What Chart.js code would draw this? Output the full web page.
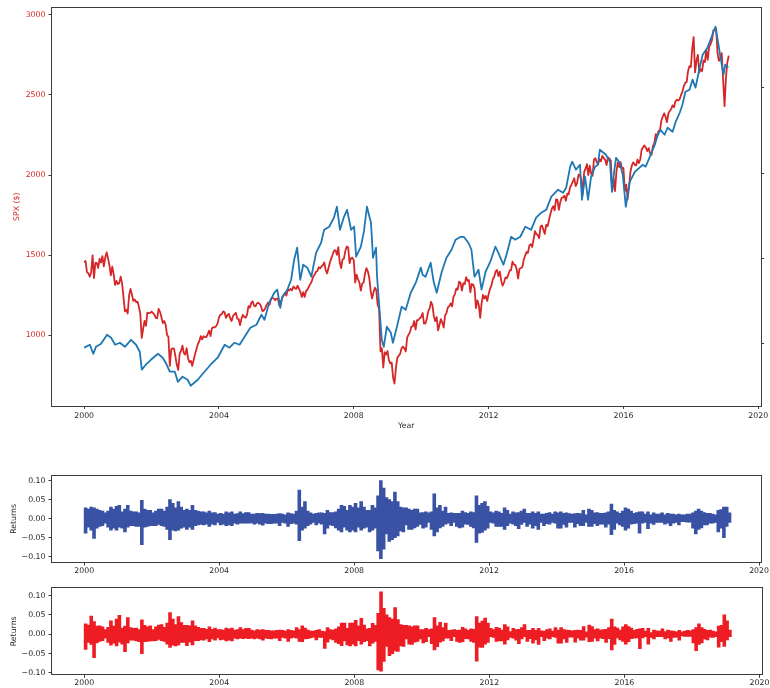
<!DOCTYPE html>
<html>
<head>
<meta charset="utf-8">
<script src="https://cdn.jsdelivr.net/npm/chart.js@4.4.0/dist/chart.umd.min.js"></script>
<style>
  html, body { margin: 0; padding: 0; background: #fff; overflow: hidden; }
  #wrap { position: relative; width: 770px; height: 688px; }
  canvas { position: absolute; left: 0; }
</style>
</head>
<body>
<div id="wrap">
  <canvas id="price" width="770" height="435" style="top:0"></canvas>
  <canvas id="retIndex" width="770" height="115" style="top:465px"></canvas>
  <canvas id="retSpx" width="770" height="108" style="top:580px"></canvas>
</div>
<script>
// ---- tick labels ----
const yearTicks = [2000, 2004, 2008, 2012, 2016, 2020];
const spxTicks = [1000, 1500, 2000, 2500, 3000];
const indexTicks = [100, 150, 200, 250];
const returnTicks = [-0.10, -0.05, 0, 0.05, 0.10];

// ---- S&P 500 level: first session of 2000, then mid-month and month-end closes ----
const spxStartYear = 2000;
const spxClose = [
  1455,
  1465,1394, 1388,1366, 1395,1499, 1357,1452, 1452,1421, 1478,1455, 1495,1431, 1484,1518, 1481,1437, 1374,1429, 1382,1315, 1340,1320,
  1326,1366, 1326,1240, 1150,1160, 1137,1249, 1290,1256, 1215,1224, 1208,1211, 1178,1134, 985,1041, 1090,1060, 1142,1139, 1140,1148,
  1140,1130, 1110,1107, 1165,1147, 1115,1077, 1090,1067, 1005,990, 810,912, 920,916, 870,815, 785,886, 905,936, 890,880,
  920,856, 834,841, 810,848, 885,917, 945,964, 995,975, 995,990, 990,1008, 1030,996, 1045,1051, 1050,1058, 1075,1112,
  1130,1131, 1150,1145, 1110,1126, 1135,1107, 1090,1121, 1132,1141, 1105,1102, 1065,1104, 1128,1115, 1110,1130, 1183,1174, 1203,1212,
  1185,1181, 1200,1204, 1197,1181, 1150,1157, 1170,1192, 1205,1191, 1227,1234, 1230,1220, 1230,1229, 1185,1207, 1235,1249, 1265,1248,
  1287,1280, 1290,1281, 1305,1295, 1290,1311, 1290,1270, 1240,1270, 1240,1277, 1285,1304, 1320,1336, 1365,1378, 1395,1401, 1425,1418,
  1430,1438, 1455,1407, 1387,1421, 1455,1482, 1505,1531, 1530,1503, 1550,1455, 1420,1474, 1480,1527, 1555,1549, 1450,1481, 1485,1468,
  1330,1379, 1350,1331, 1280,1323, 1330,1386, 1420,1400, 1360,1280, 1230,1267, 1298,1283, 1190,1166, 900,920, 800,896, 880,903,
  845,826, 830,735, 700,798, 860,873, 885,919, 930,919, 900,987, 1005,1021, 1055,1057, 1090,1036, 1095,1096, 1107,1115,
  1140,1074, 1075,1104, 1150,1169, 1210,1187, 1120,1089, 1115,1031, 1065,1102, 1080,1049, 1125,1141, 1175,1183, 1200,1181, 1242,1258,
  1293,1286, 1335,1327, 1280,1326, 1320,1364, 1340,1345, 1268,1321, 1317,1292, 1170,1219, 1190,1110, 1200,1253, 1230,1247, 1215,1258,
  1290,1312, 1350,1366, 1400,1408, 1370,1398, 1340,1310, 1330,1362, 1356,1379, 1405,1407, 1460,1441, 1440,1412, 1355,1416, 1420,1426,
  1472,1498, 1520,1515, 1560,1569, 1552,1598, 1650,1631, 1626,1606, 1680,1686, 1660,1633, 1690,1682, 1720,1757, 1790,1806, 1780,1848,
  1845,1783, 1830,1859, 1860,1872, 1840,1884, 1880,1924, 1940,1960, 1980,1931, 1950,2003, 1998,1972, 1880,2018, 2040,2068, 2000,2059,
  2010,1995, 2096,2105, 2080,2068, 2100,2086, 2120,2107, 2095,2063, 2110,2104, 2090,1900, 1980,1900, 2020,2079, 2050,2080, 2040,2044,
  1900,1940, 1850,1932, 2020,2060, 2080,2065, 2060,2097, 2075,2099, 2160,2174, 2185,2171, 2150,2168, 2135,2126, 2180,2199, 2255,2239,
  2275,2279, 2340,2364, 2385,2363, 2330,2384, 2400,2412, 2435,2423, 2460,2470, 2465,2472, 2500,2519, 2555,2575, 2580,2648, 2680,2674,
  2790,2860, 2640,2714, 2750,2641, 2660,2648, 2715,2705, 2780,2718, 2800,2816, 2840,2902, 2905,2914, 2760,2712, 2730,2760, 2590,2430,
  2610,2704, 2745
];

// ---- second index (right-hand axis) ----
const indexYears = [
  2000.00,2000.17,2000.27,2000.35,2000.50,2000.68,2000.80,2000.92,
  2001.06,2001.21,2001.39,2001.54,2001.65,2001.71,2001.83,2001.98,
  2002.19,2002.33,2002.42,2002.54,2002.69,2002.78,2002.92,
  2003.07,2003.16,2003.37,2003.57,2003.75,2003.96,
  2004.17,2004.31,2004.46,2004.61,2004.76,2004.93,
  2005.11,2005.26,2005.35,2005.49,2005.64,2005.73,2005.82,2005.88,
  2006.03,2006.14,2006.23,2006.32,2006.41,2006.50,2006.62,2006.74,2006.88,
  2007.03,2007.12,2007.27,2007.41,2007.50,2007.59,2007.71,2007.80,2007.92,
  2008.01,2008.07,2008.21,2008.30,2008.39,2008.51,2008.57,2008.66,2008.69,2008.77,2008.83,2008.89,2008.98,
  2009.10,2009.16,2009.28,2009.42,2009.54,2009.69,2009.84,2009.99,
  2010.04,2010.13,2010.28,2010.37,2010.46,2010.61,2010.75,2010.90,
  2011.02,2011.17,2011.26,2011.40,2011.49,2011.58,2011.70,2011.79,2011.91,
  2012.05,2012.20,2012.29,2012.44,2012.53,2012.67,2012.79,2012.94,
  2013.09,2013.26,2013.41,2013.56,2013.71,2013.86,2013.97,
  2014.06,2014.21,2014.30,2014.42,2014.48,2014.59,2014.71,2014.77,2014.86,2014.95,
  2015.04,2015.16,2015.24,2015.30,2015.48,2015.60,2015.66,2015.72,2015.78,2015.89,2015.98,
  2016.07,2016.19,2016.34,2016.48,2016.57,2016.66,2016.81,2016.93,
  2017.02,2017.10,2017.22,2017.31,2017.46,2017.55,2017.67,2017.75,2017.84,2017.96,
  2018.05,2018.14,2018.26,2018.35,2018.49,2018.64,2018.73,2018.82,2018.88,2018.97,
  2019.02,2019.11
];
const indexLevel = [
  97.7,99.4,94.1,98.2,100.0,105.3,103.5,99.4,
  100.6,98.2,102.3,99.4,95.3,84.8,87.7,90.6,
  94.1,91.8,88.9,83.6,83.6,77.7,80.7,
  78.9,75.4,78.9,83.6,87.7,91.8,
  99.4,97.7,100.6,99.4,104.1,109.4,
  111.1,117.0,114.1,124.0,129.9,131.7,121.1,127.6,
  131.7,137.5,149.2,156.3,137.5,146.3,144.6,139.3,153.3,
  159.2,166.8,168.6,173.9,180.3,166.8,174.4,178.5,166.8,
  168.6,151.0,156.9,165.7,180.3,170.9,150.4,156.3,139.3,118.2,102.3,98.2,110.0,
  106.4,100.6,110.0,121.7,119.9,129.9,135.8,144.6,
  140.5,139.3,147.5,136.3,129.9,142.2,150.4,155.1,
  161.0,162.7,162.7,159.2,155.1,139.3,143.4,131.7,142.2,
  148.1,156.9,153.3,146.3,152.2,162.7,161.0,162.7,
  168.6,166.8,173.9,176.8,178.5,186.2,188.5,
  190.3,188.5,191.4,203.8,206.7,202.0,204.9,184.4,197.9,184.4,
  197.9,203.8,204.9,213.7,210.8,206.7,189.0,200.0,209.0,206.1,199.1,
  180.3,195.0,200.8,203.2,204.9,203.8,210.8,216.7,
  222.5,225.4,222.5,226.6,224.3,230.1,235.4,240.1,247.7,248.9,
  254.8,250.1,261.8,269.4,273.5,281.1,285.8,275.3,267.7,257.7,
  263.6,261.8
];

// ---- daily log returns, summarised per month as the highest and lowest day ----
const returnStartYear = 2000;
const indexRetHigh = [
  .028,.025,.030,.028,.025,.022,.020,.015,.020,.030,.025,.032,
  .035,.018,.025,.035,.020,.018,.018,.015,.048,.025,.022,.022,
  .015,.020,.025,.025,.020,.030,.050,.040,.028,.045,.030,.022,
  .025,.022,.035,.022,.020,.018,.018,.015,.020,.015,.016,.012,
  .014,.012,.018,.015,.018,.012,.013,.018,.013,.016,.016,.012,
  .012,.014,.013,.014,.012,.012,.011,.011,.012,.013,.012,.010,
  .015,.013,.012,.020,.075,.030,.045,.020,.015,.012,.014,.015,
  .015,.014,.022,.016,.016,.018,.025,.035,.032,.022,.035,.030,
  .040,.028,.045,.030,.022,.022,.035,.028,.060,.100,.080,.055,
  .050,.045,.070,.045,.030,.028,.028,.025,.022,.025,.025,.015,
  .016,.018,.015,.018,.065,.028,.035,.020,.030,.014,.015,.014,
  .014,.014,.020,.016,.014,.018,.016,.060,.035,.040,.045,.032,
  .018,.015,.020,.018,.014,.028,.022,.012,.018,.015,.016,.020,
  .025,.014,.014,.018,.014,.018,.012,.012,.014,.016,.012,.018,
  .015,.018,.014,.015,.013,.012,.013,.014,.013,.022,.010,.025,
  .022,.015,.016,.014,.014,.015,.018,.038,.022,.018,.014,.020,
  .028,.025,.020,.014,.016,.018,.018,.012,.018,.010,.015,.012,
  .012,.015,.010,.014,.012,.012,.010,.012,.010,.010,.012,.012,
  .015,.020,.025,.020,.016,.014,.014,.012,.010,.022,.024,.030,
  .030,.015
];
const indexRetLow = [
  -.038,-.022,-.030,-.052,-.025,-.020,-.018,-.012,-.022,-.030,-.025,-.030,
  -.022,-.025,-.035,-.022,-.018,-.018,-.020,-.020,-.068,-.022,-.020,-.018,
  -.018,-.018,-.015,-.018,-.020,-.028,-.055,-.030,-.032,-.030,-.025,-.022,
  -.028,-.022,-.028,-.018,-.016,-.015,-.016,-.014,-.020,-.014,-.016,-.010,
  -.016,-.014,-.018,-.016,-.018,-.012,-.014,-.012,-.012,-.012,-.012,-.011,
  -.014,-.012,-.014,-.017,-.012,-.013,-.013,-.012,-.012,-.018,-.010,-.012,
  -.020,-.013,-.012,-.014,-.058,-.030,-.025,-.018,-.014,-.010,-.016,-.012,
  -.014,-.040,-.025,-.016,-.018,-.024,-.030,-.035,-.022,-.030,-.035,-.030,
  -.035,-.022,-.030,-.025,-.022,-.035,-.030,-.025,-.085,-.105,-.080,-.040,
  -.060,-.055,-.050,-.045,-.032,-.035,-.016,-.028,-.028,-.024,-.020,-.015,
  -.025,-.022,-.010,-.028,-.045,-.035,-.024,-.020,-.014,-.012,-.018,-.010,
  -.020,-.024,-.022,-.014,-.015,-.020,-.024,-.062,-.038,-.036,-.030,-.025,
  -.010,-.012,-.020,-.020,-.020,-.028,-.018,-.012,-.014,-.018,-.026,-.015,
  -.010,-.020,-.014,-.025,-.018,-.028,-.010,-.018,-.013,-.014,-.010,-.012,
  -.025,-.025,-.015,-.022,-.010,-.010,-.022,-.013,-.018,-.018,-.010,-.020,
  -.020,-.013,-.018,-.014,-.014,-.022,-.014,-.042,-.028,-.012,-.016,-.020,
  -.030,-.025,-.014,-.013,-.012,-.038,-.012,-.010,-.026,-.012,-.015,-.010,
  -.010,-.010,-.014,-.012,-.018,-.012,-.010,-.016,-.008,-.008,-.009,-.009,
  -.025,-.040,-.028,-.024,-.016,-.016,-.012,-.012,-.010,-.035,-.025,-.050,
  -.020,-.010
];
const spxRetHigh = [
  .027,.024,.047,.033,.021,.022,.019,.012,.018,.035,.021,.039,
  .049,.016,.021,.043,.017,.015,.016,.012,.037,.023,.019,.022,
  .012,.019,.024,.025,.018,.029,.056,.039,.025,.046,.030,.023,
  .023,.022,.035,.022,.018,.015,.015,.013,.019,.013,.016,.012,
  .012,.011,.016,.014,.016,.011,.012,.017,.012,.015,.015,.011,
  .009,.012,.011,.012,.010,.010,.009,.009,.010,.011,.010,.008,
  .012,.010,.009,.017,.012,.022,.016,.011,.008,.008,.010,.012,
  .008,.007,.017,.012,.011,.014,.019,.029,.029,.015,.029,.029,
  .036,.022,.041,.024,.014,.015,.028,.023,.054,.110,.067,.050,
  .043,.039,.069,.038,.025,.023,.023,.022,.019,.022,.022,.012,
  .012,.015,.012,.014,.043,.022,.031,.017,.029,.010,.011,.012,
  .010,.011,.018,.014,.010,.014,.013,.046,.029,.034,.042,.029,
  .015,.012,.018,.016,.011,.025,.019,.007,.015,.012,.013,.017,
  .025,.010,.010,.015,.010,.015,.009,.008,.012,.014,.008,.017,
  .011,.017,.012,.011,.010,.009,.010,.011,.010,.020,.006,.024,
  .020,.012,.014,.011,.012,.013,.017,.039,.019,.016,.011,.019,
  .025,.020,.016,.010,.013,.014,.015,.008,.015,.004,.011,.009,
  .008,.014,.007,.011,.009,.008,.006,.010,.006,.008,.010,.009,
  .012,.017,.027,.017,.013,.010,.011,.008,.006,.021,.023,.050,
  .035,.011
];
const spxRetLow = [
  -.039,-.021,-.026,-.060,-.022,-.018,-.016,-.010,-.021,-.028,-.023,-.030,
  -.020,-.025,-.045,-.022,-.015,-.015,-.017,-.019,-.050,-.019,-.018,-.017,
  -.017,-.016,-.013,-.016,-.018,-.025,-.034,-.028,-.030,-.027,-.021,-.021,
  -.029,-.020,-.027,-.016,-.016,-.014,-.015,-.012,-.019,-.012,-.015,-.009,
  -.014,-.013,-.017,-.015,-.017,-.010,-.012,-.010,-.011,-.010,-.011,-.010,
  -.012,-.010,-.012,-.015,-.010,-.011,-.012,-.010,-.010,-.016,-.008,-.010,
  -.018,-.010,-.008,-.010,-.018,-.019,-.012,-.011,-.009,-.007,-.014,-.008,
  -.008,-.036,-.020,-.012,-.014,-.021,-.024,-.029,-.017,-.027,-.030,-.025,
  -.030,-.016,-.025,-.019,-.016,-.030,-.023,-.018,-.092,-.095,-.070,-.031,
  -.055,-.050,-.043,-.044,-.030,-.031,-.012,-.025,-.026,-.020,-.018,-.012,
  -.022,-.019,-.006,-.024,-.040,-.032,-.020,-.017,-.010,-.010,-.016,-.006,
  -.018,-.021,-.019,-.011,-.012,-.018,-.021,-.069,-.033,-.034,-.025,-.021,
  -.006,-.008,-.018,-.017,-.017,-.025,-.014,-.008,-.010,-.015,-.024,-.012,
  -.006,-.018,-.011,-.023,-.014,-.026,-.006,-.016,-.010,-.012,-.006,-.008,
  -.023,-.023,-.012,-.021,-.007,-.007,-.020,-.010,-.015,-.015,-.007,-.019,
  -.018,-.010,-.017,-.010,-.011,-.021,-.011,-.040,-.026,-.009,-.014,-.018,
  -.025,-.019,-.011,-.010,-.009,-.037,-.009,-.006,-.025,-.008,-.012,-.006,
  -.006,-.006,-.012,-.009,-.018,-.008,-.007,-.015,-.004,-.005,-.005,-.005,
  -.022,-.042,-.026,-.022,-.012,-.014,-.007,-.008,-.006,-.033,-.019,-.031,
  -.014,-.006
];

// ---- styling ----
const TEXT = '#262626';
const SPINE = '#3c3c3c';
Chart.defaults.font.family = 'DejaVu Sans';
Chart.defaults.font.size = 7.8;
Chart.defaults.color = TEXT;

// spine box around every plot area
const frame = {
  id: 'frame',
  afterDraw(chart) {
    const { ctx, chartArea: a } = chart;
    ctx.save();
    ctx.strokeStyle = SPINE;
    ctx.lineWidth = 1;
    const l = Math.round(a.left) - 0.5, t = Math.round(a.top) - 0.5;
    const r = Math.round(a.right) + 0.5, b = Math.round(a.bottom) + 0.5;
    ctx.strokeRect(l, t, r - l, b - t);
    ctx.restore();
  }
};

const tickGrid = { drawOnChartArea: false, drawTicks: true, tickLength: 3.5, tickColor: SPINE, color: SPINE, offset: false };
const fixedTicks = list => scale => { scale.ticks = list.map(value => ({ value })); };
const fixedWidth = w => scale => { scale.width = w; };
const fixedHeight = h => scale => { scale.height = h; };
const minusSign = v => (v < 0 ? '\u2212' : '') + Math.abs(v).toFixed(2);

function yearAxis(height, labelPad, withTitle) {
  return {
    type: 'linear', position: 'bottom', min: 1999.046, max: 2020.068, offset: false,
    afterBuildTicks: fixedTicks(yearTicks),
    afterFit: fixedHeight(height),
    ticks: { callback: v => String(v), padding: labelPad, maxRotation: 0, autoSkip: false, color: TEXT },
    grid: tickGrid, border: { display: false },
    title: withTitle ? { display: true, text: 'Year', color: TEXT, padding: { top: 0, bottom: 4.3 } } : { display: false }
  };
}

const baseOptions = {
  responsive: false, animation: false, devicePixelRatio: 1,
  elements: { point: { radius: 0 }, line: { tension: 0, borderJoinStyle: 'round' } },
  plugins: { legend: { display: false }, tooltip: { enabled: false } }
};

// ---- price chart with two y axes ----
new Chart(document.getElementById('price'), {
  type: 'line',
  data: {
    datasets: [
      {
        label: 'Index',
        data: indexYears.map((x, i) => ({ x, y: indexLevel[i] })),
        yAxisID: 'yIndex', borderColor: '#1f77b4', borderWidth: 1.8, order: 0
      },
      {
        label: 'SPX',
        data: spxClose.map((y, i) => ({ x: spxStartYear + i / 24, y })),
        yAxisID: 'ySpx', borderColor: '#d62728', borderWidth: 1.8, order: 1
      }
    ]
  },
  options: {
    ...baseOptions,
    parsing: false,
    layout: { padding: { top: 8, left: 0, right: 0, bottom: 0 } },
    scales: {
      x: yearAxis(29.5, 1.8, true),
      ySpx: {
        position: 'left', min: 563, max: 3042,
        afterBuildTicks: fixedTicks(spxTicks), afterFit: fixedWidth(52),
        ticks: { color: '#d62728', padding: 3, callback: v => String(v) },
        grid: tickGrid, border: { display: false },
        title: { display: true, text: 'SPX ($)', color: '#d62728', padding: { top: 12, bottom: 0 } }
      },
      yIndex: {
        position: 'right', min: 63.8, max: 296.8,
        afterBuildTicks: fixedTicks(indexTicks), afterFit: fixedWidth(7),
        ticks: { display: false },
        grid: tickGrid, border: { display: false }
      }
    }
  },
  plugins: [frame]
});

// ---- return panels: each month spans its lowest to highest daily return ----
function monthlyRange(high, low) {
  return high.map((h, i) => ({ x: returnStartYear + (i + 0.5) / 12, y: [low[i], h] }));
}

function returnChart(id, high, low, color, yMin, yMax, top, xHeight, labelPad) {
  new Chart(document.getElementById(id), {
    type: 'bar',
    data: {
      datasets: [{
        label: 'Returns', data: monthlyRange(high, low),
        backgroundColor: color, borderWidth: 0,
        barPercentage: 1, categoryPercentage: 1, grouped: false, inflateAmount: 0.4
      }]
    },
    options: {
      ...baseOptions,
      layout: { padding: { top, left: 0, right: 7, bottom: 0 } },
      scales: {
        x: yearAxis(xHeight, labelPad, false),
        y: {
          position: 'left', min: yMin, max: yMax,
          afterBuildTicks: fixedTicks(returnTicks), afterFit: fixedWidth(52),
          ticks: { color: TEXT, padding: 3, callback: minusSign },
          grid: tickGrid, border: { display: false },
          title: { display: true, text: 'Returns', color: TEXT, padding: { top: 9.3, bottom: 0 } }
        }
      }
    },
    plugins: [frame]
  });
}

returnChart('retIndex', indexRetHigh, indexRetLow, '#3a52a4', -0.114, 0.113, 10.7, 18, 1);
returnChart('retSpx', spxRetHigh, spxRetLow, '#ee1d24', -0.1034, 0.119, 8.3, 13.7, 0.6);
</script>
</body>
</html>
